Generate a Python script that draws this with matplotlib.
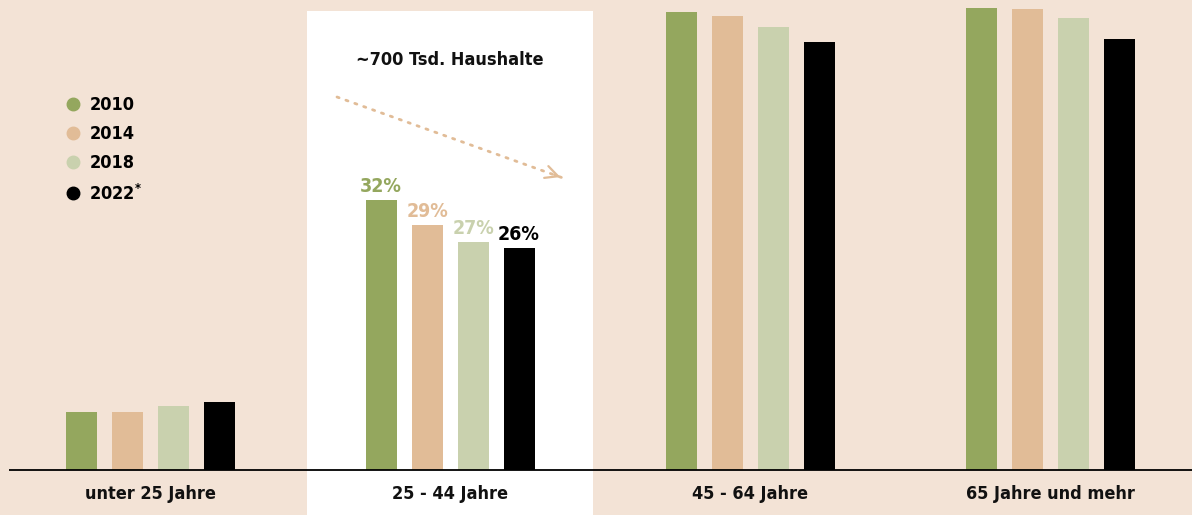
import matplotlib
matplotlib.use("Agg")
import matplotlib.pyplot as plt
from matplotlib.lines import Line2D
from matplotlib.patches import Rectangle
import numpy as np

# ---- data ----
categories = ["unter 25 Jahre", "25 - 44 Jahre", "45 - 64 Jahre", "65 Jahre und mehr"]
years = ["2010", "2014", "2018", "2022$^{*}$"]
v2010 = [6.9, 32.0, 54.3, 54.8]
v2014 = [6.9, 29.0, 53.8, 54.6]
v2018 = [7.6, 27.0, 52.5, 53.6]
v2022 = [8.1, 26.3, 50.7, 51.1]
series = [v2010, v2014, v2018, v2022]
highlight_note = "~700 Tsd. Haushalte"

colors = ["#94A75E", "#E1BC97", "#C9D1AE", "#000000"]
bg = "#F3E3D6"
plt.rcParams["font.family"] = ["DejaVu Sans"]
plt.rcParams["font.stretch"] = "condensed"
plt.rcParams["font.weight"] = "bold"
FK = dict(fontweight="bold", fontstretch="condensed")

fig = plt.figure(figsize=(11.92, 5.15), dpi=100)
fig.patch.set_facecolor(bg)
ax = fig.add_axes([0, 0, 1, 1])
ax.set_facecolor(bg)

pxu = 8.4375  # px per percent
ax.set_xlim(-0.5, -0.5 + 1192 / 300)
ax.set_ylim(-45 / pxu, 470 / pxu)

# highlight panel
ax.add_patch(Rectangle((1 - 0.4767, -45 / pxu), 2 * 0.4767, 45 / pxu + (470 - 11) / pxu,
                       facecolor="white", edgecolor="none", zorder=0))

x = np.arange(len(categories))
bw = 31 / 300
offs = (np.arange(4) - 1.5) * 46 / 300
for i, (vals, c) in enumerate(zip(series, colors)):
    ax.bar(x + offs[i], vals, width=bw, color=c, zorder=2)
    ax.text(x[1] + offs[i], vals[1] + 0.5, f"{vals[1]:.0f}%", ha="center", va="bottom",
            color=c, fontsize=14, zorder=3, **FK)

# baseline
ax.plot([-0.5 + 9 / 300, 3.5], [0, 0], color="black", lw=1.3, zorder=3, solid_capstyle="butt")

# category labels
for xi, cat in zip(x, categories):
    ax.text(xi, -24 / pxu, cat, ha="center", va="center", fontsize=13, color="#111111", **FK)

# annotation
ax.text(1.0, (470 - 60) / pxu, highlight_note, ha="center", va="center", fontsize=13,
        color="#111111", **FK)
x0, y0 = -0.5 + 337 / 300, (470 - 97) / pxu
x1, y1 = -0.5 + 563 / 300, (470 - 178) / pxu
ax.plot([x0, x1], [y0, y1], color="#E1BC97", lw=2, linestyle=(0, (0.8, 2.6)),
        dash_capstyle="round", zorder=3)
ax.annotate("", xy=(x1, y1), xytext=(x1 - (x1 - x0) * 0.05, y1 - (y1 - y0) * 0.05),
            arrowprops=dict(arrowstyle="->,head_length=0.9,head_width=0.45",
                            color="#E1BC97", lw=1.6), zorder=3)

# legend
handles = [Line2D([], [], marker="o", linestyle="none", markersize=9, color=c,
                  markeredgecolor=c) for c in colors]
leg = ax.legend(handles, years, loc="upper left", bbox_to_anchor=(64 / 1192, 1 - 96 / 515),
                frameon=False, fontsize=13, labelspacing=0.62, handletextpad=0.4,
                handlelength=1.0, borderaxespad=0, borderpad=0)
for t in leg.get_texts():
    t.set_fontweight("bold")
    t.set_fontstretch("condensed")

ax.axis("off")
fig.savefig("out.png", dpi=100, facecolor=bg)
